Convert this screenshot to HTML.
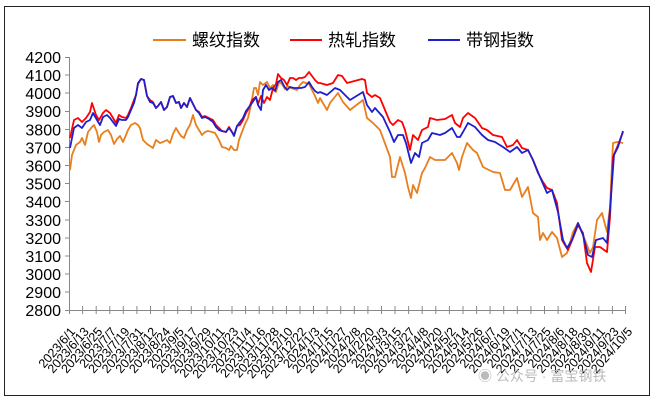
<!DOCTYPE html>
<html><head><meta charset="utf-8"><style>
html,body{margin:0;padding:0;background:#fff;}
svg{display:block;font-family:"Liberation Sans","Noto Sans CJK SC",sans-serif;}
</style></head><body>
<svg width="655" height="401" viewBox="0 0 655 401" xmlns="http://www.w3.org/2000/svg">
<rect x="0" y="0" width="655" height="401" fill="#fff"/>
<rect x="4.5" y="6.5" width="645" height="389" fill="none" stroke="#222" stroke-width="1"/>
<g font-size="17" fill="#000">
<line x1="153" y1="40" x2="186" y2="40" stroke="#E87F1E" stroke-width="2"/>
<text x="192" y="46">螺纹指数</text>
<line x1="290" y1="40" x2="322" y2="40" stroke="#FF0000" stroke-width="2"/>
<text x="328" y="46">热轧指数</text>
<line x1="428" y1="40" x2="460" y2="40" stroke="#1F1FCC" stroke-width="2"/>
<text x="466" y="46">带钢指数</text>
</g>
<g stroke="#888" stroke-width="1">
<line x1="69.5" y1="57" x2="69.5" y2="310"/>
<line x1="69" y1="310.5" x2="626" y2="310.5"/>
<path d="M65 310.5H69M65 292H69M65 274H69M65 256H69M65 238H69M65 220H69M65 201.5H69M65 183.5H69M65 165.5H69M65 147.5H69M65 129.5H69M65 111.5H69M65 93H69M65 75H69M65 57.5H69"/>
<path d="M69.5 306V314M82.6 306V314M96.2 306V314M109.8 306V314M123.3 306V314M136.9 306V314M150.5 306V314M164.1 306V314M177.7 306V314M191.3 306V314M204.9 306V314M218.4 306V314M232 306V314M245.6 306V314M259.2 306V314M272.8 306V314M286.4 306V314M300 306V314M313.5 306V314M327.1 306V314M340.7 306V314M354.3 306V314M367.9 306V314M381.5 306V314M395 306V314M408.6 306V314M422.2 306V314M435.8 306V314M449.4 306V314M463 306V314M476.6 306V314M490.1 306V314M503.7 306V314M517.3 306V314M530.9 306V314M544.5 306V314M558.1 306V314M571.6 306V314M585.2 306V314M598.8 306V314M612.4 306V314M625.5 306V314"/>
</g>
<g font-size="16" fill="#000" text-anchor="end">
<text x="61" y="316">2800</text><text x="61" y="298">2900</text><text x="61" y="280">3000</text><text x="61" y="262">3100</text><text x="61" y="244">3200</text><text x="61" y="226">3300</text><text x="61" y="207.5">3400</text><text x="61" y="189.5">3500</text><text x="61" y="171.5">3600</text><text x="61" y="153.5">3700</text><text x="61" y="135.5">3800</text><text x="61" y="117">3900</text><text x="61" y="99">4000</text><text x="61" y="81">4100</text><text x="61" y="63">4200</text>
</g>
<g font-size="12.5" fill="#000" text-anchor="end">
<text transform="translate(76,332) rotate(-49)">2023/6/1</text>
<text transform="translate(89.6,332) rotate(-49)">2023/6/13</text>
<text transform="translate(103.2,332) rotate(-49)">2023/6/25</text>
<text transform="translate(116.8,332) rotate(-49)">2023/7/7</text>
<text transform="translate(130.3,332) rotate(-49)">2023/7/19</text>
<text transform="translate(143.9,332) rotate(-49)">2023/7/31</text>
<text transform="translate(157.5,332) rotate(-49)">2023/8/12</text>
<text transform="translate(171.1,332) rotate(-49)">2023/8/24</text>
<text transform="translate(184.7,332) rotate(-49)">2023/9/5</text>
<text transform="translate(198.3,332) rotate(-49)">2023/9/17</text>
<text transform="translate(211.9,332) rotate(-49)">2023/9/29</text>
<text transform="translate(225.4,332) rotate(-49)">2023/10/11</text>
<text transform="translate(239,332) rotate(-49)">2023/10/23</text>
<text transform="translate(252.6,332) rotate(-49)">2023/11/4</text>
<text transform="translate(266.2,332) rotate(-49)">2023/11/16</text>
<text transform="translate(279.8,332) rotate(-49)">2023/11/28</text>
<text transform="translate(293.4,332) rotate(-49)">2023/12/10</text>
<text transform="translate(307,332) rotate(-49)">2023/12/22</text>
<text transform="translate(320.5,332) rotate(-49)">2024/1/3</text>
<text transform="translate(334.1,332) rotate(-49)">2024/1/15</text>
<text transform="translate(347.7,332) rotate(-49)">2024/1/27</text>
<text transform="translate(361.3,332) rotate(-49)">2024/2/8</text>
<text transform="translate(374.9,332) rotate(-49)">2024/2/20</text>
<text transform="translate(388.5,332) rotate(-49)">2024/3/3</text>
<text transform="translate(402,332) rotate(-49)">2024/3/15</text>
<text transform="translate(415.6,332) rotate(-49)">2024/3/27</text>
<text transform="translate(429.2,332) rotate(-49)">2024/4/8</text>
<text transform="translate(442.8,332) rotate(-49)">2024/4/20</text>
<text transform="translate(456.4,332) rotate(-49)">2024/5/2</text>
<text transform="translate(470,332) rotate(-49)">2024/5/14</text>
<text transform="translate(483.6,332) rotate(-49)">2024/5/26</text>
<text transform="translate(497.1,332) rotate(-49)">2024/6/7</text>
<text transform="translate(510.7,332) rotate(-49)">2024/6/19</text>
<text transform="translate(524.3,332) rotate(-49)">2024/7/1</text>
<text transform="translate(537.9,332) rotate(-49)">2024/7/13</text>
<text transform="translate(551.5,332) rotate(-49)">2024/7/25</text>
<text transform="translate(565.1,332) rotate(-49)">2024/8/6</text>
<text transform="translate(578.6,332) rotate(-49)">2024/8/18</text>
<text transform="translate(592.2,332) rotate(-49)">2024/8/30</text>
<text transform="translate(605.8,332) rotate(-49)">2024/9/11</text>
<text transform="translate(619.4,332) rotate(-49)">2024/9/23</text>
<text transform="translate(633,332) rotate(-49)">2024/10/5</text>
</g>
<polyline fill="none" stroke="#E87F1E" stroke-width="1.8" stroke-linejoin="round" points="70,170 72,155 76,145 80,142 82,138 85,145 88,132 92,127 94,125 97,132 99,142 101,135 104,132 108,130 111,135 114,144 117,139 120,136 123,142 126,135 128,130 131,125 135,123 138,125 140,128 143,140 147,144 150,146 153,148 156,140 160,143 163,142 167,140 170,143 173,134 176,128 179,133 181,136 184,138 187,130 190,125 193,115 196,125 199,130 202,135 205,132 208,131 212,132 215,133 219,140 222,147 226,148 229,150 231,146 234,150 237,150 239,140 242,132 245,124 248,118 251,105 254,88 256,88 258,95 260,82 263,85 267,82 270,88 273,85 276,92 279,82 282,84 285,89 288,86 291,88 294,89 297,90 300,85 303,82 306,83 309,84 312,90 315,96 318,103 320,98 327,110 330,103 338,93 343,102 350,110 363,100 367,118 373,123 380,130 390,157 392,177 395,177 400,157 405,173 408,187 411,198 413,185 417,193 422,173 425,168 430,157 435,160 445,160 452,153 457,163 459,170 462,157 467,143 473,150 477,153 483,167 493,172 500,173 505,190 510,190 517,178 522,197 528,187 533,213 538,217 540,240 543,233 547,240 552,232 557,238 562,257 567,253 573,232 578,223 583,235 590,253 593,247 597,220 602,213 607,232 610,207 613,143 617,142 623,143"/>
<polyline fill="none" stroke="#FF0000" stroke-width="1.8" stroke-linejoin="round" points="70,138 74,120 78,118 82,122 86,118 90,112 92,103 96,115 99,120 103,113 106,110 110,113 113,118 116,123 119,115 122,117 126,118 128,115 131,108 134,100 136,95 138,84 141,79 144,80 147,96 150,100 153,102 156,108 158,106 161,102 164,110 167,107 170,97 173,96 176,103 179,102 181,108 184,103 187,107 190,98 193,104 196,110 199,112 202,117 205,116 209,118 213,120 216,125 219,128 222,131 226,132 229,127 232,132 234,135 237,126 240,125 243,120 246,113 249,108 252,100 256,97 258,104 261,96 264,103 267,97 270,100 273,88 276,84 278,74 281,78 284,80 287,85 290,78 293,78 296,80 299,78 302,78 305,77 309,72 312,76 315,80 318,83 320,83 327,85 333,83 338,75 342,76 347,83 362,79 365,80 367,93 372,97 375,95 380,98 385,110 390,122 393,125 398,120 402,122 405,130 410,150 413,135 418,140 422,130 428,127 430,118 437,120 445,119 452,115 455,123 460,127 463,118 468,113 475,118 482,128 487,130 493,135 502,137 507,147 513,145 517,140 522,148 528,150 533,160 538,173 543,182 547,188 552,190 557,203 562,240 568,250 573,238 578,225 583,233 587,263 591,272 595,247 600,247 607,252 610,217 613,157 618,145 623,132"/>
<polyline fill="none" stroke="#1F1FCC" stroke-width="1.8" stroke-linejoin="round" points="70,148 74,128 78,125 82,128 86,122 90,120 93,113 97,120 100,125 103,117 107,115 110,118 113,122 116,126 119,119 122,120 126,120 128,117 131,110 134,103 136,95 138,83 141,79 144,80 147,96 150,102 153,103 156,108 158,106 161,102 164,110 167,107 170,97 173,96 176,103 179,102 181,108 184,103 187,107 190,98 193,104 196,110 199,113 202,118 205,117 209,119 213,122 216,127 219,130 222,131 226,132 229,128 232,132 234,136 237,126 240,122 243,118 246,111 249,107 252,103 256,97 258,105 261,110 263,90 266,85 269,90 272,88 275,91 278,82 281,80 284,86 287,90 290,87 294,88 297,88 301,88 305,87 309,82 312,87 315,91 318,93 320,92 327,95 335,88 340,90 350,100 363,92 367,105 372,112 375,108 383,117 390,132 394,142 398,135 403,135 406,143 411,163 415,153 419,157 422,143 428,140 432,133 440,135 445,133 452,128 457,137 460,137 463,132 468,123 475,127 482,135 488,140 495,142 503,147 510,152 517,147 522,153 528,150 533,160 540,177 547,193 552,190 558,212 563,240 567,248 572,240 578,223 583,235 588,255 592,257 596,240 603,238 607,243 610,210 614,155 618,147 623,131"/>
<text x="478" y="381" font-size="14" fill="#bbb">◉ 公众号 · 富宝钢铁</text>
</svg>
</body></html>
